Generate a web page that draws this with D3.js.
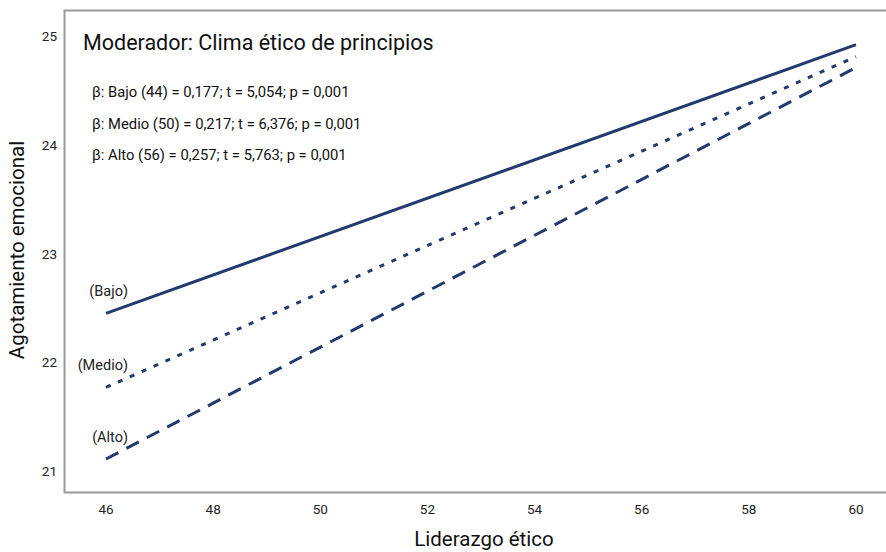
<!DOCTYPE html>
<head>
  <meta charset="utf-8">
  <script src="https://d3js.org/d3.v7.min.js"></script>
  <style>
    body { margin: 0; background: #fff; }
    svg { width: 886px; height: 552px; font-family: Roboto, sans-serif; }
  </style>
</head>
<body>
  <svg></svg>
  <script>
    var xTicks = [46, 48, 50, 52, 54, 56, 58, 60];
    var yTicks = [21, 22, 23, 24, 25];
    var levels = ['(Bajo)', '(Medio)', '(Alto)'];
    var startValues = [22.45, 21.77, 21.11];
    var endValues = [24.92, 24.81, 24.71];
    var stats = [
      'β: Bajo (44) = 0,177; t = 5,054; p = 0,001',
      'β: Medio (50) = 0,217; t = 6,376; p = 0,001',
      'β: Alto (56) = 0,257; t = 5,763; p = 0,001'
    ];

    var color = '#233a6e';
    var dashes = [null, '5,8', '14,9'];
    var svg = d3.select('svg');

    var x = d3.scaleLinear().domain([46, 60]).range([106, 856]);
    var y = d3.scaleLinear().domain([21, 25]).range([471, 36]);

    // frame: left, top, bottom
    svg.append('path')
      .attr('d', 'M886,10.5H64.5V492.5H886')
      .attr('fill', 'none')
      .attr('stroke', '#999')
      .attr('stroke-width', 2);

    svg.selectAll('text.xt').data(xTicks).enter().append('text')
      .attr('class', 'xt')
      .attr('x', function(d) { return x(d); })
      .attr('y', 514)
      .attr('text-anchor', 'middle')
      .attr('font-size', 13.5)
      .attr('fill', '#222')
      .text(function(d) { return d; });

    svg.selectAll('text.yt').data(yTicks).enter().append('text')
      .attr('class', 'yt')
      .attr('x', 57)
      .attr('y', function(d) { return y(d) + 5; })
      .attr('text-anchor', 'end')
      .attr('font-size', 13.5)
      .attr('fill', '#222')
      .text(function(d) { return d; });

    var lines = levels.map(function(l, i) {
      return { label: l, pts: [[46, startValues[i]], [60, endValues[i]]], dash: dashes[i] };
    });

    var line = d3.line()
      .x(function(d) { return x(d[0]); })
      .y(function(d) { return y(d[1]); });

    svg.selectAll('path.series').data(lines).enter().append('path')
      .attr('class', 'series')
      .attr('d', function(d) { return line(d.pts); })
      .attr('fill', 'none')
      .attr('stroke', color)
      .attr('stroke-width', 3)
      .attr('stroke-dasharray', function(d) { return d.dash; });

    svg.selectAll('text.lab').data(lines).enter().append('text')
      .attr('class', 'lab')
      .attr('x', x(46) + 22)
      .attr('y', function(d) { return y(d.pts[0][1]) - 17; })
      .attr('text-anchor', 'end')
      .attr('font-size', 14.5)
      .attr('fill', '#222')
      .text(function(d) { return d.label; });

    svg.append('text')
      .attr('x', 83).attr('y', 50)
      .attr('font-size', 21.5)
      .attr('fill', '#111')
      .text('Moderador: Clima ético de principios');

    svg.selectAll('text.stat').data(stats).enter().append('text')
      .attr('class', 'stat')
      .attr('x', 92)
      .attr('y', function(d, i) { return 97 + i * 31.5; })
      .attr('font-size', 14.8)
      .attr('fill', '#111')
      .text(function(d) { return d; });

    svg.append('text')
      .attr('transform', 'translate(24,250)rotate(-90)')
      .attr('text-anchor', 'middle')
      .attr('font-size', 20.5)
      .attr('fill', '#111')
      .text('Agotamiento emocional');

    svg.append('text')
      .attr('x', 484).attr('y', 546)
      .attr('text-anchor', 'middle')
      .attr('font-size', 20.5)
      .attr('fill', '#111')
      .text('Liderazgo ético');
  </script>
</body>
